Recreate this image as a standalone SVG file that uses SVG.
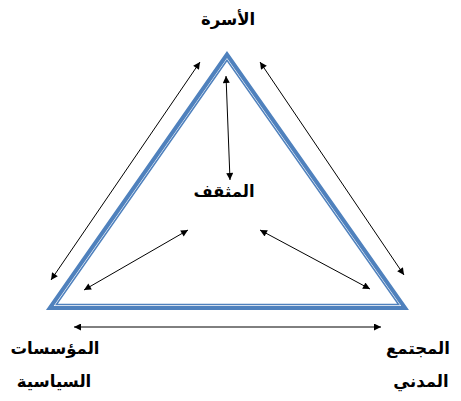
<svg xmlns="http://www.w3.org/2000/svg" width="461" height="401" viewBox="0 0 461 401">
<style>
.lbl{font-family:"DejaVu Sans","Noto Sans",sans-serif;font-size:16.5px;font-weight:bold;fill:#000;text-anchor:middle}
.tri{fill:none;stroke:#4F81BD;stroke-linejoin:miter}
.arr{stroke:#000;stroke-width:1;fill:none;marker-start:url(#ah);marker-end:url(#ah)}
</style>
<defs>
<marker id="ah" viewBox="0 0 10 10" refX="10" refY="5" markerWidth="10" markerHeight="7" markerUnits="userSpaceOnUse" orient="auto-start-reverse">
<path d="M0,0 L10,5 L0,10 z" fill="#000"/>
</marker>
</defs>
<rect width="461" height="401" fill="#fff"/>
<g id="triangle">
<polygon class="tri" stroke-width="4" points="227,54.5 49.8,308 405.1,308"/>
<polygon class="tri" stroke-width="1.5" points="227,60.2 56.4,304.5 398.6,304.5"/>
</g>
<g id="connectors">
<line class="arr" x1="200" y1="62" x2="51" y2="280"/>
<line class="arr" x1="260" y1="62" x2="404" y2="275"/>
<line class="arr" x1="74" y1="327" x2="381" y2="327"/>
<line class="arr" x1="226" y1="76" x2="230" y2="180"/>
<line class="arr" x1="188" y1="230" x2="84" y2="290"/>
<line class="arr" x1="260" y1="230" x2="370" y2="289"/>
</g>
<g id="node-family"><text class="lbl" x="228" y="25">الأسرة</text></g>
<g id="node-intellectual"><text class="lbl" x="224" y="197">المثقف</text></g>
<g id="node-political"><text class="lbl" x="55" y="354">المؤسسات</text><text class="lbl" x="54" y="387">السياسية</text></g>
<g id="node-civil"><text class="lbl" x="418" y="354">المجتمع</text><text class="lbl" x="421" y="387">المدني</text></g>
</svg>
